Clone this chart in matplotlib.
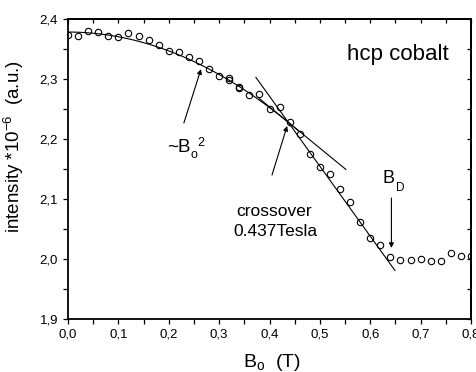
import numpy as np
import matplotlib.pyplot as plt
from matplotlib.ticker import MultipleLocator, FuncFormatter

plt.rcParams['font.family'] = ['Liberation Sans', 'DejaVu Sans']
plt.rcParams['mathtext.default'] = 'regular'

# measured intensity vs field (a.u. * 1e-6)
field = [0.00, 0.02, 0.04, 0.06, 0.08, 0.10, 0.12, 0.14, 0.16, 0.18,
         0.20, 0.22, 0.24, 0.26, 0.28, 0.30, 0.32, 0.32, 0.34, 0.34,
         0.36, 0.38, 0.40, 0.42, 0.44, 0.46, 0.48, 0.50, 0.52, 0.54,
         0.56, 0.58, 0.60, 0.62, 0.64, 0.66, 0.68, 0.70, 0.72, 0.74,
         0.76, 0.78, 0.80]
intensity = [2.374, 2.373, 2.380, 2.379, 2.373, 2.370, 2.377, 2.373, 2.365, 2.357,
             2.348, 2.345, 2.337, 2.331, 2.318, 2.306, 2.303, 2.298, 2.287, 2.285,
             2.273, 2.275, 2.251, 2.254, 2.228, 2.208, 2.175, 2.154, 2.142, 2.117,
             2.094, 2.061, 2.034, 2.023, 2.003, 1.998, 1.998, 1.999, 1.996, 1.996,
             2.009, 2.005, 2.005]

# fit parameters: I = I0 - k*B^2 at low field, linear above the crossover
I0 = 2.379
k = 0.789
B_cross = 0.437
steep_slope = -1.17
B_D = 0.642

fig = plt.figure(figsize=(4.77, 3.72), dpi=100)
ax = fig.add_axes([0.1426, 0.1438, 0.8448, 0.8038])

ax.plot(field, intensity, 'o', ms=4.6, mfc='none', mec='k', mew=0.8)

# quadratic fit
bq = np.linspace(0, B_cross + 0.02, 100)
ax.plot(bq, I0 - k * bq**2, 'k-', lw=0.8)

# tangent to the quadratic at the crossover
I_cross = I0 - k * B_cross**2
tan_slope = -2 * k * B_cross
bt = np.array([0.38, 0.5516])
ax.plot(bt, I_cross + tan_slope * (bt - B_cross), 'k-', lw=0.8)

# steep linear part
bs = np.array([0.373, 0.649])
ax.plot(bs, I_cross + steep_slope * (bs - B_cross), 'k-', lw=0.8)

arrow = dict(arrowstyle='-|>', lw=0.8, color='k', mutation_scale=7,
             shrinkA=0, shrinkB=0)
ax.annotate('', xy=(0.264, 2.317), xytext=(0.230, 2.227), arrowprops=arrow)
ax.annotate('', xy=(0.435, 2.222), xytext=(0.405, 2.140), arrowprops=arrow)
ax.annotate('', xy=(B_D, 2.018), xytext=(B_D, 2.1015), arrowprops=arrow)

ax.text(0.196, 2.179, '~B', fontsize=13.5)
ax.text(0.2436, 2.168, 'o', fontsize=9)
ax.text(0.256, 2.188, '2', fontsize=9)
ax.text(0.3335, 2.0714, 'crossover', fontsize=12.5)
ax.text(0.3275, 2.038, '0.437Tesla', fontsize=12.5)
ax.text(0.625, 2.1266, 'B', fontsize=13)
ax.text(0.651, 2.113, 'D', fontsize=8.5)
ax.text(0.554, 2.3323, 'hcp cobalt', fontsize=16)

ax.set_xlim(0, 0.8)
ax.set_ylim(1.9, 2.4)

comma = FuncFormatter(lambda v, p: f'{v:.1f}'.replace('.', ','))
ax.xaxis.set_major_locator(MultipleLocator(0.1))
ax.xaxis.set_minor_locator(MultipleLocator(0.05))
ax.yaxis.set_major_locator(MultipleLocator(0.1))
ax.yaxis.set_minor_locator(MultipleLocator(0.05))
ax.xaxis.set_major_formatter(comma)
ax.yaxis.set_major_formatter(comma)
ax.tick_params(which='both', direction='out', length=3.6, width=0.9,
               labelsize=9.5, pad=3.5)

for s in ax.spines.values():
    s.set_linewidth(1.3)

# mirrored ticks pointing inward on top and right
top = ax.secondary_xaxis('top')
right = ax.secondary_yaxis('right')
for sec in (top, right):
    sec.tick_params(which='both', direction='in', length=3.2, width=0.9)
top.xaxis.set_major_locator(MultipleLocator(0.05))
top.xaxis.set_major_formatter(plt.NullFormatter())
right.yaxis.set_major_locator(MultipleLocator(0.05))
right.yaxis.set_major_formatter(plt.NullFormatter())
top.spines['top'].set_linewidth(1.3)
right.spines['right'].set_linewidth(1.3)

ax.set_xlabel(r'B$_\mathregular{o}$  (T)', fontsize=14)
ax.set_ylabel(r'intensity *10$^{-6}$  (a.u.)', fontsize=13.5)
ax.xaxis.set_label_coords(0.505, -0.112)
ax.yaxis.set_label_coords(-0.105, 0.575)

fig.savefig('out.png', dpi=100)
